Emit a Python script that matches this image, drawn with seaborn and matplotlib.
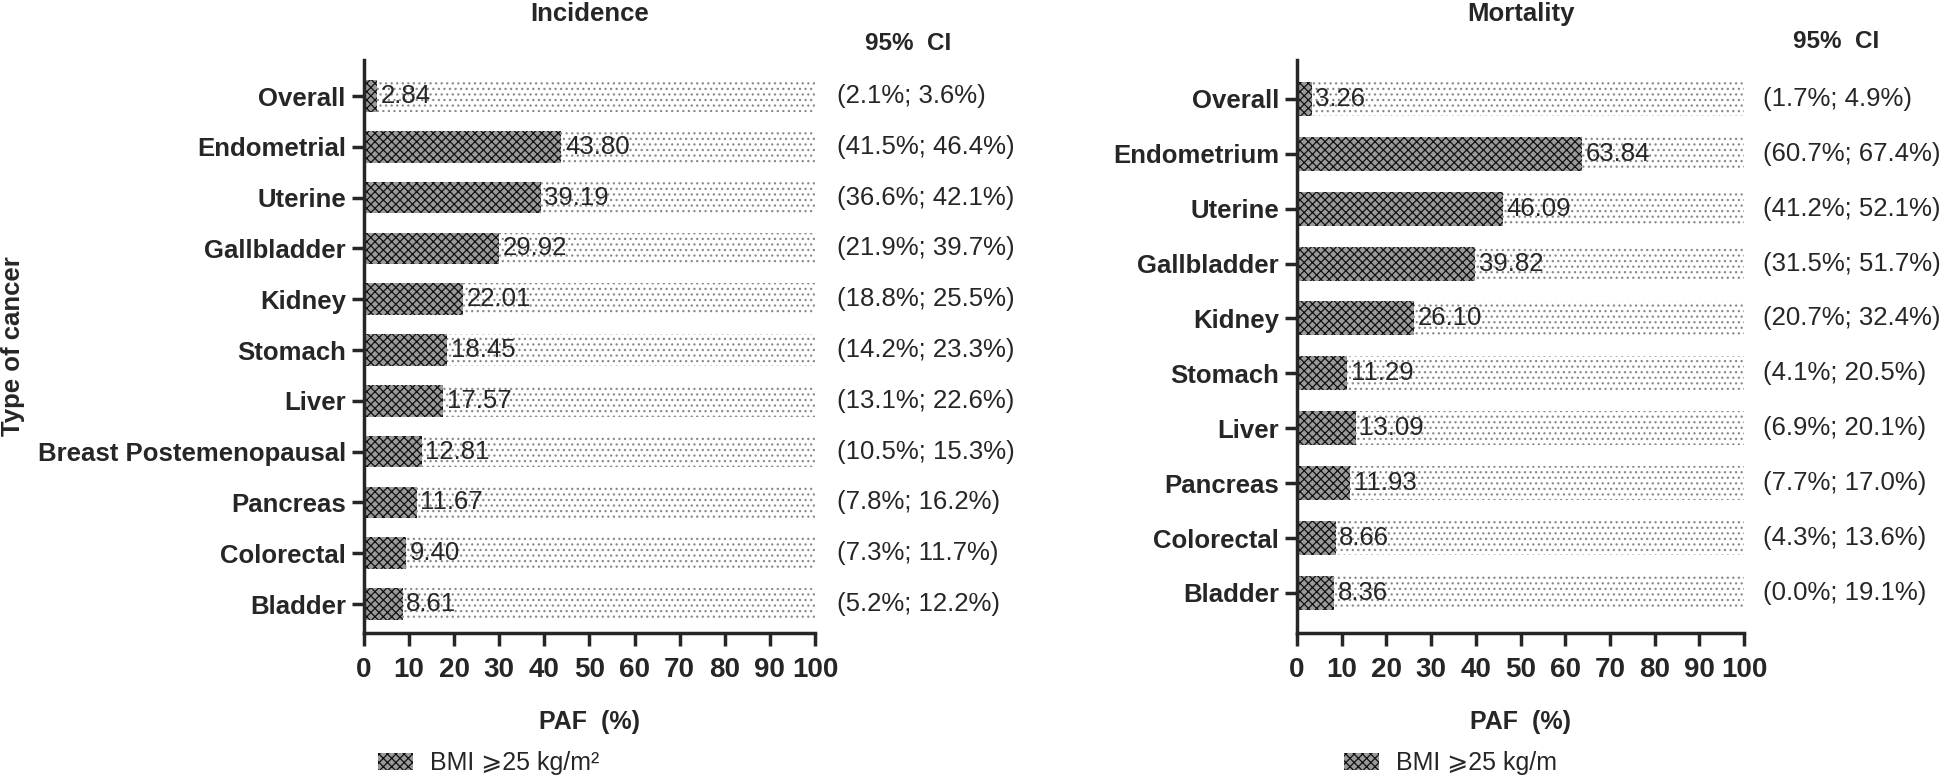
import numpy as np
import pandas as pd
import matplotlib
matplotlib.use("Agg")
import matplotlib.pyplot as plt
import seaborn as sns
from matplotlib.patches import Patch
from matplotlib import font_manager

# incidence panel
inc_cancers = ["Overall", "Endometrial", "Uterine", "Gallbladder", "Kidney", "Stomach",
               "Liver", "Breast Postemenopausal", "Pancreas", "Colorectal", "Bladder"]
inc_paf = [2.84, 43.80, 39.19, 29.92, 22.01, 18.45, 17.57, 12.81, 11.67, 9.40, 8.61]
inc_ci = ["(2.1%; 3.6%)", "(41.5%; 46.4%)", "(36.6%; 42.1%)", "(21.9%; 39.7%)",
          "(18.8%; 25.5%)", "(14.2%; 23.3%)", "(13.1%; 22.6%)", "(10.5%; 15.3%)",
          "(7.8%; 16.2%)", "(7.3%; 11.7%)", "(5.2%; 12.2%)"]

# mortality panel
mort_cancers = ["Overall", "Endometrium", "Uterine", "Gallbladder", "Kidney", "Stomach",
                "Liver", "Pancreas", "Colorectal", "Bladder"]
mort_paf = [3.26, 63.84, 46.09, 39.82, 26.10, 11.29, 13.09, 11.93, 8.66, 8.36]
mort_ci = ["(1.7%; 4.9%)", "(60.7%; 67.4%)", "(41.2%; 52.1%)", "(31.5%; 51.7%)",
           "(20.7%; 32.4%)", "(4.1%; 20.5%)", "(6.9%; 20.1%)", "(7.7%; 17.0%)",
           "(4.3%; 13.6%)", "(0.0%; 19.1%)"]

x_ticks = list(range(0, 101, 10))

sns.set_style("ticks")
plt.rcParams["font.family"] = ["Liberation Sans", "DejaVu Sans"]
plt.rcParams["hatch.linewidth"] = 0.9

installed = {f.name for f in font_manager.fontManager.ttflist}
NARROW = ["Liberation Sans Narrow"] if "Liberation Sans Narrow" in installed else []
NARROW = NARROW + ["Liberation Sans", "DejaVu Sans"]

FS_TICK = 18.5
FS_VAL = 18.5

BAR_FACE = "#9a9a9a"
BAR_HATCH = "#111111"


def draw_panel(ax, cancers, paf, ci, title, ci_x, head_x, ylim,
               legend_label, legend_x, show_ylabel):
    df = pd.DataFrame({"cancer": cancers, "paf": paf, "full": [100] * len(cancers)})
    sns.barplot(data=df, x="full", y="cancer", orient="h", color="white",
                width=0.62, ax=ax, linewidth=0)
    n = len(ax.patches)
    for p in ax.patches:
        p.set_hatch("...")
        p.set_edgecolor("#8a8a8a")
        p.set_linewidth(0)
    sns.barplot(data=df, x="paf", y="cancer", orient="h", color=BAR_FACE,
                width=0.62, ax=ax, linewidth=0)
    for p in ax.patches[n:]:
        p.set_hatch("xxxx")
        p.set_edgecolor(BAR_HATCH)
        p.set_linewidth(0)

    for i, (v, c) in enumerate(zip(paf, ci)):
        ax.text(v + 0.8, i, f"{v:.2f}", va="center", ha="left", fontsize=FS_VAL)
        ax.text(ci_x, i, c, va="center", ha="left", fontsize=FS_VAL, clip_on=False)
    ax.text(head_x, ylim[1] - 0.33, "95%  CI", va="center", ha="left",
            fontsize=17.5, fontweight="bold", clip_on=False)

    ax.set_xlim(0, 100)
    ax.set_ylim(*ylim)
    ax.set_xticks(x_ticks)
    ax.set_xticklabels([str(t) for t in x_ticks], fontsize=20, fontweight="bold",
                       family=NARROW)
    ax.set_yticks(range(len(cancers)))
    ax.set_yticklabels(cancers, fontsize=FS_TICK, fontweight="bold")
    ax.tick_params(axis="both", length=9, width=2.5, pad=4)
    ax.tick_params(axis="x", pad=8)
    for s in ["left", "bottom"]:
        ax.spines[s].set_linewidth(2.5)
    sns.despine(ax=ax)
    ax.set_xlabel("PAF  (%)", fontsize=18, fontweight="bold", labelpad=20)
    if show_ylabel:
        ax.set_ylabel("Type of cancer", fontsize=18.5, fontweight="bold")
        ax.yaxis.set_label_coords(-0.752, 0.5)
    else:
        ax.set_ylabel("")
    ax.set_title(title, fontsize=18.5, fontweight="bold", pad=0, y=1.068)

    handle = Patch(facecolor=BAR_FACE, edgecolor=BAR_HATCH, hatch="xxxx", linewidth=0)
    ax.legend([handle], [legend_label], loc="center left",
              bbox_to_anchor=(legend_x, -0.227), frameon=False,
              prop={"size": 18}, handlelength=1.4, handleheight=0.7,
              handletextpad=0.7, borderaxespad=0, borderpad=0)


fig = plt.figure(figsize=(19.46, 7.8), dpi=100)
ax1 = fig.add_axes([0.187, 0.1885, 0.2318, 0.7346])
ax2 = fig.add_axes([0.6665, 0.1885, 0.2297, 0.7346])

draw_panel(ax1, inc_cancers, inc_paf, inc_ci, "Incidence", 104.9, 111.1,
           (10.57, -0.71), "BMI ⩾25 kg/m²", 0.031, True)
draw_panel(ax2, mort_cancers, mort_paf, mort_ci, "Mortality", 104.3, 111.0,
           (9.73, -0.71), "BMI ⩾25 kg/m", 0.105, False)

fig.savefig("out.png", dpi=100)
